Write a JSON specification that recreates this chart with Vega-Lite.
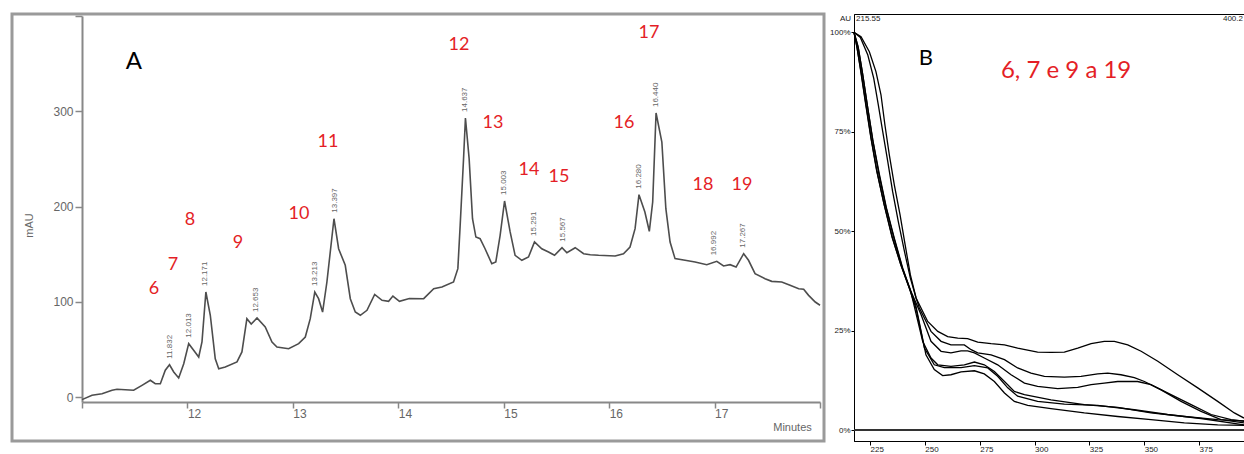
{
  "$schema": "https://vega.github.io/schema/vega-lite/v6.json",
  "padding": {"left": 10, "top": 12, "right": 0, "bottom": 0},
  "spacing": 3,
  "config": {"font": "Liberation Sans", "axis": {"grid": false}},
  "datasets": {
    "chrom": [
      {"t":11.0,"v":-2.5},{"t":11.095,"v":2.0},{"t":11.19,"v":3.7},{"t":11.285,"v":7.3},{"t":11.332,"v":8.3},{"t":11.49,"v":7.3},{"t":11.569,"v":12.5},{"t":11.648,"v":17.8},{"t":11.695,"v":14.2},{"t":11.743,"v":14.2},{"t":11.79,"v":28.3},{"t":11.83,"v":34.1},{"t":11.87,"v":26.5},{"t":11.917,"v":20.2},{"t":11.965,"v":35.2},{"t":12.012,"v":56.2},{"t":12.059,"v":49.2},{"t":12.107,"v":42.2},{"t":12.138,"v":58},{"t":12.175,"v":110.4},{"t":12.217,"v":86},{"t":12.264,"v":40.4},{"t":12.297,"v":29.9},{"t":12.359,"v":31.7},{"t":12.47,"v":37},{"t":12.517,"v":47.5},{"t":12.564,"v":82.4},{"t":12.605,"v":76.8},{"t":12.66,"v":83.1},{"t":12.738,"v":73.7},{"t":12.802,"v":58},{"t":12.849,"v":52.7},{"t":12.96,"v":50.9},{"t":13.055,"v":56.2},{"t":13.118,"v":63.2},{"t":13.165,"v":82.4},{"t":13.208,"v":110.4},{"t":13.244,"v":103.4},{"t":13.282,"v":89.4},{"t":13.323,"v":120.9},{"t":13.39,"v":187.3},{"t":13.434,"v":155.8},{"t":13.497,"v":138.4},{"t":13.545,"v":103.4},{"t":13.592,"v":89.4},{"t":13.64,"v":86},{"t":13.703,"v":91.2},{"t":13.776,"v":107.8},{"t":13.846,"v":101.7},{"t":13.908,"v":100.6},{"t":13.949,"v":106.2},{"t":14.011,"v":100.6},{"t":14.105,"v":103.6},{"t":14.241,"v":103.4},{"t":14.336,"v":113.9},{"t":14.414,"v":115.7},{"t":14.524,"v":120.9},{"t":14.565,"v":134.9},{"t":14.587,"v":180.4},{"t":14.619,"v":250.3},{"t":14.637,"v":293},{"t":14.672,"v":250.3},{"t":14.704,"v":187.3},{"t":14.736,"v":168.1},{"t":14.776,"v":166.3},{"t":14.823,"v":155.8},{"t":14.887,"v":140.1},{"t":14.925,"v":141.9},{"t":14.966,"v":169.9},{"t":15.008,"v":205.9},{"t":15.061,"v":173.4},{"t":15.108,"v":148.9},{"t":15.172,"v":143.7},{"t":15.235,"v":147.1},{"t":15.292,"v":162.9},{"t":15.361,"v":155.8},{"t":15.425,"v":152.4},{"t":15.482,"v":148.9},{"t":15.553,"v":156.9},{"t":15.599,"v":151.6},{"t":15.678,"v":156.9},{"t":15.758,"v":150.6},{"t":15.821,"v":149.5},{"t":15.9,"v":148.9},{"t":16.057,"v":148.2},{"t":16.136,"v":150.6},{"t":16.198,"v":157.6},{"t":16.246,"v":176.9},{"t":16.283,"v":212.5},{"t":16.339,"v":194.3},{"t":16.381,"v":174.1},{"t":16.413,"v":204.8},{"t":16.445,"v":298.2},{"t":16.5,"v":267.8},{"t":16.538,"v":197.8},{"t":16.578,"v":162.9},{"t":16.625,"v":145.4},{"t":16.72,"v":143.7},{"t":16.815,"v":141.9},{"t":16.926,"v":139.1},{"t":17.021,"v":142.6},{"t":17.085,"v":137.7},{"t":17.147,"v":139.1},{"t":17.204,"v":136.6},{"t":17.276,"v":150.6},{"t":17.322,"v":143.7},{"t":17.384,"v":129.6},{"t":17.479,"v":124.4},{"t":17.542,"v":121.6},{"t":17.637,"v":120.9},{"t":17.716,"v":117.4},{"t":17.798,"v":113.9},{"t":17.845,"v":113.3},{"t":17.892,"v":106.9},{"t":17.955,"v":99.9},{"t":18.0,"v":96.5}
    ],
    "peaks": [
      {"t":11.832,"v":34.1,"label":"11.832"},{"t":12.013,"v":56.2,"label":"12.013"},{"t":12.171,"v":110.4,"label":"12.171"},{"t":12.653,"v":83.1,"label":"12.653"},{"t":13.213,"v":110.4,"label":"13.213"},{"t":13.397,"v":187.3,"label":"13.397"},{"t":14.637,"v":293,"label":"14.637"},{"t":15.003,"v":205.9,"label":"15.003"},{"t":15.291,"v":162.9,"label":"15.291"},{"t":15.567,"v":156.9,"label":"15.567"},{"t":16.28,"v":212.5,"label":"16.280"},{"t":16.44,"v":298.2,"label":"16.440"},{"t":16.992,"v":142.6,"label":"16.992"},{"t":17.267,"v":150.6,"label":"17.267"}
    ],
    "redlabels": [
      {"t":11.683,"v":113.6,"label":"6"},{"t":11.863,"v":138.7,"label":"7"},{"t":12.024,"v":186,"label":"8"},{"t":12.48,"v":161.8,"label":"9"},{"t":13.058,"v":192.3,"label":"10"},{"t":13.333,"v":267.8,"label":"11"},{"t":14.576,"v":369.6,"label":"12"},{"t":14.898,"v":287.7,"label":"13"},{"t":15.24,"v":238.4,"label":"14"},{"t":15.524,"v":231.1,"label":"15"},{"t":16.141,"v":287.7,"label":"16"},{"t":16.378,"v":382.2,"label":"17"},{"t":16.89,"v":222.7,"label":"18"},{"t":17.26,"v":222.7,"label":"19"}
    ],
    "spectra": [
      {"s":"1","wl":217.7,"pct":100},{"s":"1","wl":220.9,"pct":98.9},{"s":"1","wl":224.7,"pct":95.1},{"s":"1","wl":227.7,"pct":90.1},{"s":"1","wl":230.0,"pct":84.3},{"s":"1","wl":231.8,"pct":76.7},{"s":"1","wl":233.8,"pct":69.2},{"s":"1","wl":236.1,"pct":61.6},{"s":"1","wl":238.7,"pct":54.1},{"s":"1","wl":241.0,"pct":46.6},{"s":"1","wl":243.4,"pct":39.0},{"s":"1","wl":246.0,"pct":33.2},{"s":"1","wl":251.3,"pct":27.3},{"s":"1","wl":255.9,"pct":24.8},{"s":"1","wl":260.4,"pct":23.5},{"s":"1","wl":265.0,"pct":23.1},{"s":"1","wl":269.5,"pct":23.0},{"s":"1","wl":274.1,"pct":22.1},{"s":"1","wl":280.2,"pct":21.7},{"s":"1","wl":286.3,"pct":21.4},{"s":"1","wl":292.3,"pct":20.6},{"s":"1","wl":301.4,"pct":19.6},{"s":"1","wl":307.5,"pct":19.5},{"s":"1","wl":313.6,"pct":19.6},{"s":"1","wl":319.7,"pct":20.6},{"s":"1","wl":325.8,"pct":21.7},{"s":"1","wl":331.8,"pct":22.3},{"s":"1","wl":336.4,"pct":22.3},{"s":"1","wl":342.5,"pct":21.4},{"s":"1","wl":348.6,"pct":19.8},{"s":"1","wl":356.2,"pct":17.3},{"s":"1","wl":365.3,"pct":13.9},{"s":"1","wl":374.4,"pct":10.6},{"s":"1","wl":383.5,"pct":7.2},{"s":"1","wl":391.1,"pct":4.3},{"s":"1","wl":395.5,"pct":3.0},
      {"s":"2","wl":217.7,"pct":100},{"s":"2","wl":220.6,"pct":98.7},{"s":"2","wl":224.0,"pct":94.3},{"s":"2","wl":226.7,"pct":88.4},{"s":"2","wl":228.8,"pct":81.7},{"s":"2","wl":230.8,"pct":75.0},{"s":"2","wl":233.1,"pct":67.5},{"s":"2","wl":235.3,"pct":60.0},{"s":"2","wl":237.9,"pct":52.4},{"s":"2","wl":240.7,"pct":44.9},{"s":"2","wl":243.4,"pct":38.2},{"s":"2","wl":246.0,"pct":33.2},{"s":"2","wl":247.5,"pct":30.7},{"s":"2","wl":252.8,"pct":24.8},{"s":"2","wl":257.4,"pct":22.3},{"s":"2","wl":261.9,"pct":21.4},{"s":"2","wl":268.0,"pct":21.4},{"s":"2","wl":271.1,"pct":20.2},{"s":"2","wl":274.1,"pct":19.4},{"s":"2","wl":280.2,"pct":18.9},{"s":"2","wl":286.3,"pct":17.7},{"s":"2","wl":292.3,"pct":15.6},{"s":"2","wl":298.4,"pct":14.3},{"s":"2","wl":304.5,"pct":13.5},{"s":"2","wl":313.6,"pct":13.3},{"s":"2","wl":321.2,"pct":13.5},{"s":"2","wl":328.8,"pct":14.1},{"s":"2","wl":333.4,"pct":14.3},{"s":"2","wl":339.4,"pct":13.9},{"s":"2","wl":345.5,"pct":13.2},{"s":"2","wl":350.1,"pct":12.2},{"s":"2","wl":357.7,"pct":10.1},{"s":"2","wl":366.8,"pct":7.2},{"s":"2","wl":375.9,"pct":4.7},{"s":"2","wl":385.0,"pct":2.6},{"s":"2","wl":395.5,"pct":1.8},
      {"s":"3","wl":217.7,"pct":100},{"s":"3","wl":219.7,"pct":96.0},{"s":"3","wl":221.7,"pct":89.3},{"s":"3","wl":224.0,"pct":80.9},{"s":"3","wl":226.4,"pct":72.5},{"s":"3","wl":229.3,"pct":64.2},{"s":"3","wl":232.5,"pct":55.8},{"s":"3","wl":236.1,"pct":48.2},{"s":"3","wl":239.9,"pct":40.7},{"s":"3","wl":243.7,"pct":34.8},{"s":"3","wl":248.3,"pct":29.0},{"s":"3","wl":252.8,"pct":22.3},{"s":"3","wl":257.4,"pct":19.8},{"s":"3","wl":261.9,"pct":19.4},{"s":"3","wl":266.5,"pct":19.9},{"s":"3","wl":269.5,"pct":19.9},{"s":"3","wl":272.6,"pct":19.4},{"s":"3","wl":277.1,"pct":18.1},{"s":"3","wl":283.2,"pct":16.4},{"s":"3","wl":289.3,"pct":13.9},{"s":"3","wl":295.4,"pct":11.8},{"s":"3","wl":301.4,"pct":11.0},{"s":"3","wl":310.6,"pct":10.4},{"s":"3","wl":319.7,"pct":10.7},{"s":"3","wl":325.8,"pct":11.4},{"s":"3","wl":331.8,"pct":11.8},{"s":"3","wl":337.9,"pct":12.2},{"s":"3","wl":347.0,"pct":12.2},{"s":"3","wl":353.1,"pct":11.4},{"s":"3","wl":362.2,"pct":8.9},{"s":"3","wl":371.4,"pct":6.4},{"s":"3","wl":380.5,"pct":3.9},{"s":"3","wl":389.6,"pct":2.6},{"s":"3","wl":395.5,"pct":2.2},
      {"s":"4","wl":217.7,"pct":100},{"s":"4","wl":219.5,"pct":96.5},{"s":"4","wl":221.5,"pct":90},{"s":"4","wl":223.8,"pct":81.5},{"s":"4","wl":226.2,"pct":73},{"s":"4","wl":229.0,"pct":64.5},{"s":"4","wl":232.2,"pct":56.2},{"s":"4","wl":235.8,"pct":48.5},{"s":"4","wl":239.6,"pct":41},{"s":"4","wl":243.5,"pct":35},{"s":"4","wl":249.0,"pct":22.3},{"s":"4","wl":252.8,"pct":18.1},{"s":"4","wl":255.9,"pct":16.4},{"s":"4","wl":261.9,"pct":16.0},{"s":"4","wl":268.0,"pct":16.4},{"s":"4","wl":272.6,"pct":17.1},{"s":"4","wl":277.1,"pct":16.4},{"s":"4","wl":281.7,"pct":14.7},{"s":"4","wl":286.3,"pct":12.2},{"s":"4","wl":290.8,"pct":9.7},{"s":"4","wl":295.4,"pct":8.9},{"s":"4","wl":307.5,"pct":7.6},{"s":"4","wl":322.7,"pct":6.4},{"s":"4","wl":337.9,"pct":5.7},{"s":"4","wl":353.1,"pct":4.3},{"s":"4","wl":368.3,"pct":3.4},{"s":"4","wl":383.5,"pct":2.6},{"s":"4","wl":395.5,"pct":2.3},
      {"s":"5","wl":217.7,"pct":100},{"s":"5","wl":219.1,"pct":96.0},{"s":"5","wl":220.9,"pct":90.1},{"s":"5","wl":223.2,"pct":81.7},{"s":"5","wl":225.5,"pct":73.4},{"s":"5","wl":228.2,"pct":65.0},{"s":"5","wl":231.5,"pct":56.6},{"s":"5","wl":235.3,"pct":48.2},{"s":"5","wl":239.1,"pct":41.5},{"s":"5","wl":242.9,"pct":35.7},{"s":"5","wl":246.0,"pct":30.5},{"s":"5","wl":249.8,"pct":20.6},{"s":"5","wl":254.3,"pct":16.4},{"s":"5","wl":258.9,"pct":15.7},{"s":"5","wl":266.5,"pct":15.7},{"s":"5","wl":272.6,"pct":16.2},{"s":"5","wl":278.7,"pct":15.6},{"s":"5","wl":283.2,"pct":13.5},{"s":"5","wl":287.8,"pct":10.6},{"s":"5","wl":292.3,"pct":8.5},{"s":"5","wl":301.4,"pct":7.2},{"s":"5","wl":313.6,"pct":6.5},{"s":"5","wl":328.8,"pct":6.2},{"s":"5","wl":345.5,"pct":5.1},{"s":"5","wl":360.7,"pct":3.9},{"s":"5","wl":375.9,"pct":2.9},{"s":"5","wl":395.5,"pct":1.3},
      {"s":"6","wl":217.7,"pct":100},{"s":"6","wl":219.0,"pct":96.5},{"s":"6","wl":220.7,"pct":90.5},{"s":"6","wl":223.0,"pct":82},{"s":"6","wl":225.3,"pct":73.8},{"s":"6","wl":228.0,"pct":65.3},{"s":"6","wl":231.3,"pct":57},{"s":"6","wl":235.0,"pct":48.6},{"s":"6","wl":238.9,"pct":41.8},{"s":"6","wl":242.7,"pct":36},{"s":"6","wl":245.8,"pct":31.5},{"s":"6","wl":250.5,"pct":18.9},{"s":"6","wl":254.3,"pct":15.2},{"s":"6","wl":258.1,"pct":13.7},{"s":"6","wl":261.9,"pct":13.9},{"s":"6","wl":266.5,"pct":14.6},{"s":"6","wl":272.6,"pct":14.9},{"s":"6","wl":277.1,"pct":14.1},{"s":"6","wl":281.7,"pct":12.2},{"s":"6","wl":286.3,"pct":9.3},{"s":"6","wl":290.8,"pct":7.2},{"s":"6","wl":296.9,"pct":6.2},{"s":"6","wl":307.5,"pct":5.4},{"s":"6","wl":322.7,"pct":4.3},{"s":"6","wl":337.9,"pct":3.4},{"s":"6","wl":353.1,"pct":2.6},{"s":"6","wl":368.3,"pct":1.8},{"s":"6","wl":383.5,"pct":1.3},{"s":"6","wl":395.5,"pct":1.2}
    ]
  },
  "hconcat": [
    {
      "width": 812,
      "height": 427,
      "view": {"stroke": "#9a9a9a", "strokeWidth": 3, "fill": "white"},
      "encoding": {
        "x": {"field": "t", "type": "quantitative",
          "scale": {"domain": [11, 18], "range": [70, 808], "nice": false, "zero": false},
          "axis": {"orient": "bottom", "offset": -39, "values": [11,12,13,14,15,16,17,18],
            "labelExpr": "datum.value == 11 || datum.value == 18 ? '' : datum.label",
            "domainColor": "#888", "domainWidth": 2, "tickColor": "#888", "tickWidth": 1.5, "tickSize": 6,
            "labelAlign": "left", "labelDx": 2, "labelColor": "#666", "labelFontSize": 12, "labelPadding": 0,
            "labelFlush": false, "labelOverlap": false,
            "title": "Minutes", "titleX": 780, "titleY": 25, "titleBaseline": "middle", "titleFontSize": 11,
            "titleColor": "#666", "titleFontWeight": "normal"}},
        "y": {"field": "v", "type": "quantitative",
          "scale": {"domain": [-5, 400], "range": [388, 2], "nice": false, "zero": false},
          "axis": {"orient": "left", "offset": -70, "values": [0, 100, 200, 300, 400],
            "labelExpr": "datum.value == 400 ? '' : datum.label",
            "domainColor": "#888", "domainWidth": 2, "tickColor": "#888", "tickWidth": 1.5, "tickSize": 7,
            "labelColor": "#666", "labelFontSize": 12, "labelPadding": 2, "labelFlush": false,
            "title": "mAU", "titleFontSize": 11, "titleColor": "#666", "titleFontWeight": "normal",
            "titlePadding": 18, "titleY": 211}}
      },
      "layer": [
        {"data": {"name": "chrom"}, "mark": {"type": "line", "color": "#4d4d4d", "strokeWidth": 1.6}},
        {"data": {"name": "peaks"}, "mark": {"type": "text", "angle": 270, "align": "left", "baseline": "middle", "dx": 6, "fontSize": 8, "color": "#666"},
          "encoding": {"text": {"field": "label", "type": "nominal"}}},
        {"data": {"name": "redlabels"}, "mark": {"type": "text", "font": "Lato", "fontSize": 18, "color": "#e41e26", "align": "center", "baseline": "middle"},
          "encoding": {"text": {"field": "label", "type": "nominal"}}},
        {"data": {"values": [{"t": 11.493, "v": 351.7, "label": "A"}]}, "mark": {"type": "text", "font": "Lato", "fontSize": 24, "color": "black", "align": "center", "baseline": "middle"},
          "encoding": {"text": {"field": "label", "type": "nominal"}}}
      ]
    },
    {
      "width": 390,
      "height": 427,
      "view": {"stroke": "black", "strokeWidth": 1, "fill": "white"},
      "encoding": {
        "x": {"field": "wl", "type": "quantitative",
          "scale": {"domain": [217.7, 395.5], "nice": false, "zero": false},
          "axis": {"values": [225, 250, 275, 300, 325, 350, 375], "format": "d", "labelAlign": "left", "labelDx": 1,
            "labelFontSize": 8, "labelColor": "#222", "tickSize": 4, "tickColor": "black", "domainColor": "black",
            "labelPadding": 0, "labelFlush": false, "labelOverlap": false, "title": null}},
        "y": {"field": "pct", "type": "quantitative",
          "scale": {"domain": [-2.76, 104.6], "nice": false, "zero": false},
          "axis": {"values": [0, 25, 50, 75, 100], "labelExpr": "datum.value + '%'", "labelFontSize": 8,
            "labelColor": "#222", "tickSize": 3, "tickColor": "black", "domainColor": "black", "labelPadding": 1,
            "labelFlush": false, "title": null}}
      },
      "layer": [
        {"data": {"values": [{"pct": 0}]}, "mark": {"type": "rule", "color": "#333", "strokeWidth": 2}, "encoding": {"x": null}},
        {"data": {"name": "spectra"}, "mark": {"type": "line", "color": "black", "strokeWidth": 1.3},
          "encoding": {"detail": {"field": "s", "type": "nominal"}}},
        {"data": {"values": [{"wl": 250.5, "pct": 93.5, "label": "B"}]}, "mark": {"type": "text", "font": "Lato", "fontSize": 22, "color": "black", "align": "center", "baseline": "middle"},
          "encoding": {"text": {"field": "label", "type": "nominal"}}},
        {"data": {"values": [{"wl": 314.4, "pct": 90.2, "label": "6, 7 e 9 a 19"}]}, "mark": {"type": "text", "font": "Lato", "fontSize": 24, "color": "#e41e26", "align": "center", "baseline": "middle"},
          "encoding": {"text": {"field": "label", "type": "nominal"}}},
        {"data": {"values": [{"wl": 217.7, "pct": 103.3, "label": "AU"}]}, "mark": {"type": "text", "fontSize": 8, "color": "#222", "align": "right", "baseline": "middle", "dx": -3},
          "encoding": {"text": {"field": "label", "type": "nominal"}}},
        {"data": {"values": [{"wl": 217.7, "pct": 103.3, "label": "215.55"}]}, "mark": {"type": "text", "fontSize": 8, "color": "#222", "align": "left", "baseline": "middle", "dx": 2},
          "encoding": {"text": {"field": "label", "type": "nominal"}}},
        {"data": {"values": [{"wl": 395.5, "pct": 103.3, "label": "400.2"}]}, "mark": {"type": "text", "fontSize": 8, "color": "#222", "align": "right", "baseline": "middle", "dx": -1},
          "encoding": {"text": {"field": "label", "type": "nominal"}}}
      ]
    }
  ]
}
